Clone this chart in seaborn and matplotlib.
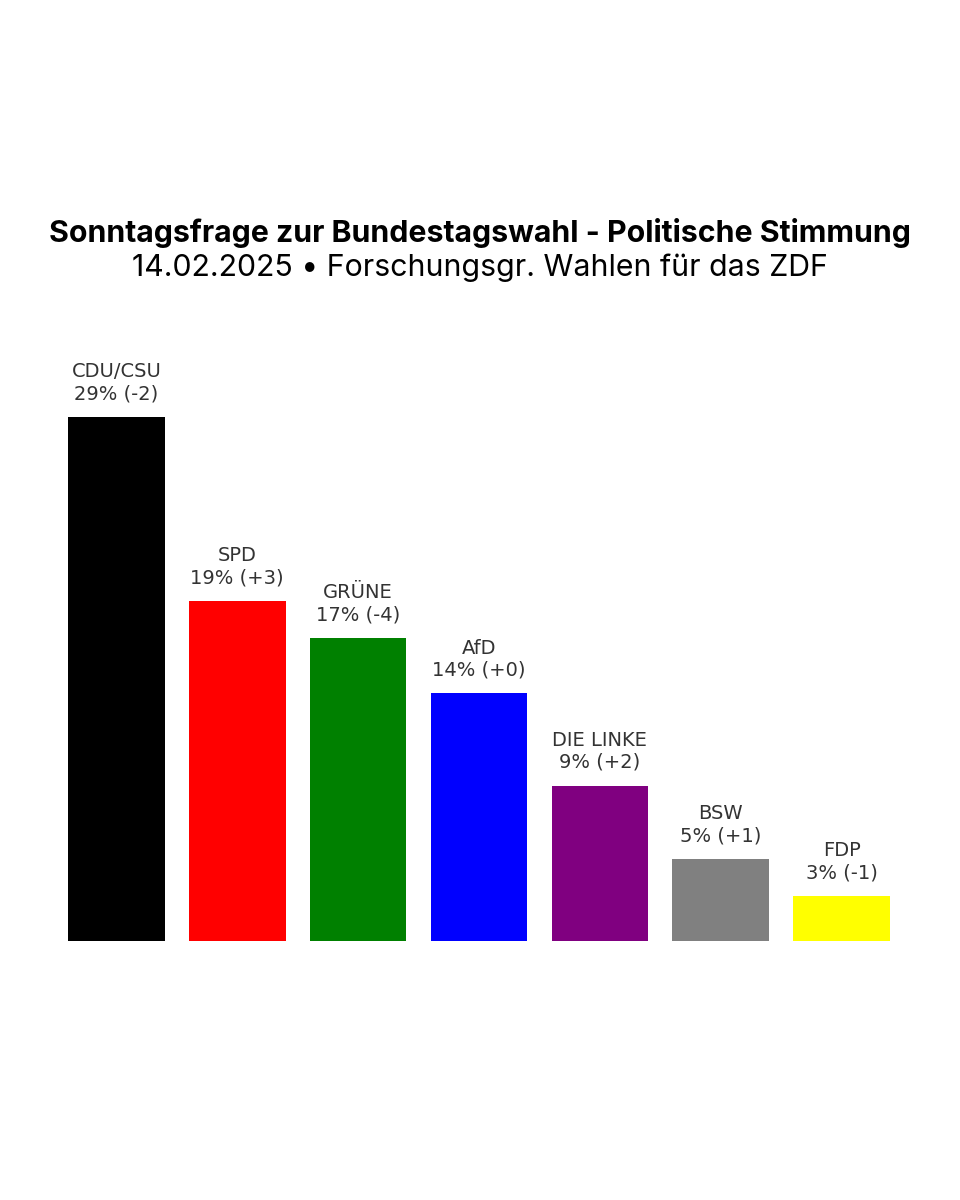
import seaborn as sns
import matplotlib.pyplot as plt
import pandas as pd

# poll data
parties = ["CDU/CSU", "SPD", "GRÜNE", "AfD", "DIE LINKE", "BSW", "FDP"]
shares = [29, 19, 17, 14, 9, 5, 3]
changes = ["-2", "+3", "-4", "+0", "+2", "+1", "-1"]
colors = ["#000000", "#ff0000", "#008000", "#0000ff", "#800080", "#808080", "#ffff00"]

df = pd.DataFrame({"party": parties, "share": shares})

sns.set_style("white")
plt.rcParams["font.family"] = ["DejaVu Sans"]

fig = plt.figure(figsize=(9.6, 12), dpi=100)
ax = fig.add_axes([0.0583, 0.2158, 0.8813, 0.5])

sns.barplot(data=df, x="party", y="share", hue="party", palette=colors,
            legend=False, width=0.8, saturation=1, linewidth=0, ax=ax)

for i, p in enumerate(ax.patches):
    ax.annotate(f"{parties[i]}\n{shares[i]}% ({changes[i]})",
                (p.get_x() + p.get_width() / 2, p.get_height()),
                xytext=(0, 10), textcoords="offset points",
                ha="center", va="bottom", fontsize=14, color="#333333",
                linespacing=1.2)

ax.set_ylim(0.56, 0.56 + 600 / 18.42)
ax.set_xlim(-0.5, 6.5)
ax.axis("off")

fig.text(0.5, 1 - 233 / 1200, "Sonntagsfrage zur Bundestagswahl - Politische Stimmung",
         ha="center", va="center", fontsize=21.8, fontweight="bold", family="Inter",
         color="black")
fig.text(0.5, 1 - 268 / 1200, "14.02.2025 \u2022 Forschungsgr. Wahlen für das ZDF",
         ha="center", va="center", fontsize=21.8, family="Inter", color="black")

fig.savefig("out.png", dpi=100, facecolor="white")
